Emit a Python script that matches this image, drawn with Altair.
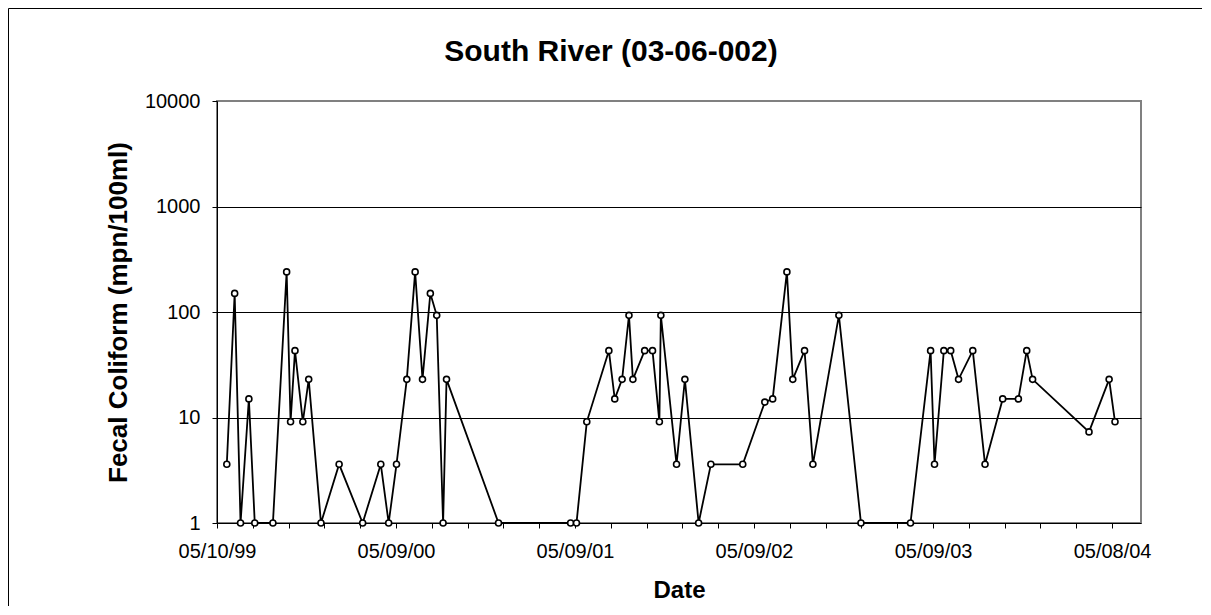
import altair as alt
import pandas as pd

dates = [
    "1999-05-30", "1999-06-15", "1999-06-27", "1999-07-14", "1999-07-26", "1999-09-01",
    "1999-09-29", "1999-10-07", "1999-10-16", "1999-11-01", "1999-11-13", "1999-12-08",
    "2000-01-14", "2000-03-02", "2000-04-08", "2000-04-24", "2000-05-10", "2000-05-31",
    "2000-06-17", "2000-07-02", "2000-07-18", "2000-07-31", "2000-08-13", "2000-08-20",
    "2000-12-04",
    "2001-04-30", "2001-05-12", "2001-06-02", "2001-07-17", "2001-07-29", "2001-08-13",
    "2001-08-27", "2001-09-04", "2001-09-28", "2001-10-14", "2001-10-28", "2001-10-31",
    "2001-12-02", "2001-12-19",
    "2002-01-16", "2002-02-10", "2002-04-16", "2002-05-31", "2002-06-16", "2002-07-15",
    "2002-07-27", "2002-08-20", "2002-09-06", "2002-10-29", "2002-12-13",
    "2003-03-24", "2003-05-04", "2003-05-12", "2003-05-31", "2003-06-14", "2003-06-30",
    "2003-07-29", "2003-08-23", "2003-09-28", "2003-10-30", "2003-11-16", "2003-11-28",
    "2004-03-22", "2004-05-02", "2004-05-14",
]
values = [
    3.6, 150, 1, 15, 1, 1, 240, 9.1, 43, 9.1, 23, 1,
    3.6, 1, 3.6, 1, 3.6, 23, 240, 23, 150, 93, 1, 23, 1,
    1, 1, 9.1, 43, 15, 23, 93, 23, 43, 43, 9.1, 93, 3.6, 23,
    1, 3.6, 3.6, 14, 15, 240, 23, 43, 3.6, 93, 1,
    1, 43, 3.6, 43, 43, 23, 43, 3.6, 15, 15, 43, 23,
    7.3, 23, 9.1,
]
x_tick_labels = ["05/10/99", "05/09/00", "05/09/01", "05/09/02", "05/09/03", "05/08/04"]
y_ticks = [1, 10, 100, 1000, 10000]

df = pd.DataFrame({"date": dates, "value": values})


def ms(ts):
    return int(pd.Timestamp(ts).value // 10**6)


major = [pd.to_datetime(t, format="%m/%d/%y") for t in x_tick_labels]
minor = pd.date_range(major[0], major[-1], freq="73D")
tick_ms = [ms(t) for t in minor]
major_ms = [ms(t) for t in major]
domain_end = major[0] + pd.Timedelta(days=1884)

label_expr = (
    "[" + ",".join("'" + l + "'" for l in x_tick_labels) + "]"
    + "[indexof([" + ",".join(str(m) for m in major_ms) + "], time(datum.value))] || ''"
)

FONT = "Liberation Sans"

one = alt.Data(values=[{"a": 1}])
frame_top = alt.Chart(one).mark_rule(color="black", strokeWidth=1).encode(
    x=alt.value(-208.5), x2=alt.value(985), y=alt.value(-92.5)
)
frame_left = alt.Chart(one).mark_rule(color="black", strokeWidth=1).encode(
    x=alt.value(-208.5), y=alt.value(-92.5), y2=alt.value(505)
)

main = alt.Chart(df).mark_line(
    color="black",
    strokeWidth=1.8,
    point=alt.OverlayMarkDef(filled=False, fill="white", stroke="black", strokeWidth=1.6, size=36, opacity=1),
).encode(
    x=alt.X(
        "date:T",
        scale=alt.Scale(type="utc", domain=[ms(major[0]), ms(domain_end)]),
        axis=alt.Axis(
            values=tick_ms,
            labelExpr=label_expr,
            title="Date",
            grid=False,
            tickSize=5,
            tickColor="black",
            domainColor="black",
            labelFont=FONT,
            labelFontSize=20,
            labelColor="black",
            labelPadding=13,
            labelOverlap=False,
            labelFlush=False,
            titleFont=FONT,
            titleFontSize=24,
            titleFontWeight="bold",
            titleColor="black",
            titleY=67,
            titleBaseline="middle",
            titleAlign="center",
        ),
    ),
    y=alt.Y(
        "value:Q",
        scale=alt.Scale(type="log", domain=[1, 10000]),
        axis=alt.Axis(
            values=y_ticks,
            format="d",
            title="Fecal Coliform (mpn/100ml)",
            grid=True,
            gridColor="black",
            gridWidth=1,
            gridOpacity={"condition": {"test": "datum.value == 1 || datum.value == 10000", "value": 0}, "value": 1},
            tickSize=5,
            tickColor="black",
            domainColor="black",
            labelFont=FONT,
            labelFontSize=20,
            labelColor="black",
            labelPadding=12,
            titleFont=FONT,
            titleFontSize=26,
            titleFontWeight="bold",
            titleColor="black",
            titleX=-99,
            titleY=211,
            titleBaseline="middle",
            titleAlign="center",
        ),
    ),
)

chart = alt.layer(frame_top, frame_left, main).properties(
    width=924,
    height=422,
    autosize=alt.AutoSizeParams(type="none"),
    padding={"left": 209, "top": 93, "right": 62, "bottom": 84},
    title=alt.TitleParams(
        "South River (03-06-002)",
        font=FONT,
        fontSize=30,
        fontWeight="bold",
        color="black",
        anchor="middle",
        dx=-68,
        offset=-59,
    ),
).configure_view(stroke="#808080", strokeWidth=2)

chart.save("out.html", embed_options={"renderer": "svg", "actions": False})
